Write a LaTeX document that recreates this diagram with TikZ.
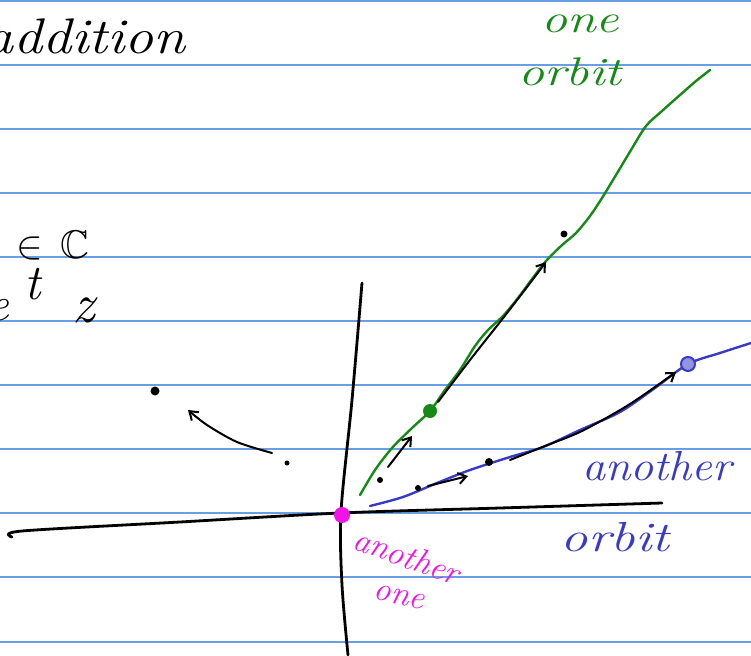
\documentclass[tikz,border=0pt]{standalone}
\usepackage{amsmath,amssymb}
\usepackage{tikz}
\usetikzlibrary{arrows.meta}

\definecolor{ruleblue}{HTML}{6A9EE2}
\definecolor{orbitgreen}{HTML}{168A16}
\definecolor{orbitblue}{HTML}{3A3AC8}
\definecolor{pinkpen}{HTML}{F014E6}

\begin{document}
\begin{tikzpicture}[
    x=1pt, y=-1pt,
    ruleline/.style={ruleblue, line width=1.8pt},
    axis/.style={line width=2.8pt, line cap=round, line join=round},
    orbit/.style={line width=2.4pt, line cap=round, line join=round},
    flow/.style={line width=2pt, line cap=round, line join=round, -{Straight Barb[length=8pt, width=11pt, line width=2pt]}},
    blob/.style={circle, fill, inner sep=0pt, minimum size=#1},
    hand/.style={inner sep=0pt, font=\itshape\fontsize{#1}{#1}\selectfont}
]

% Page
\fill[white] (0,0) rectangle (751,655);
\useasboundingbox (0,0) rectangle (751,655);

% Ruled lines
\foreach \y in {1,65,129,193,257,321,385,449,513,577,642}
  \draw[ruleline] (0,\y) -- (751,\y);

% Header and formula scraps
\node[hand=50, anchor=base east, xscale=1.16] (title) at (186,54) {addition};
\node[anchor=base west, inner sep=0pt] (member) at (16,258) {\scalebox{4}{$\in\,\mathbb{C}$}};
\node[hand=48, anchor=base east] (e) at (9,320) {e};
\node[hand=50, anchor=base] (t) at (33,299) {t};
\node[hand=56, anchor=base] (z) at (84,322) {z};

% Axes
\draw[axis] plot[smooth] coordinates {(12,537) (22,531) (180,522) (340,513) (500,508) (662,503)};
\draw[axis] plot[smooth] coordinates {(362,283) (352,400) (341,512) (342,585) (348,655)};

% Orbits
\draw[orbit, orbitgreen] plot[smooth] coordinates {(360,495) (375,470) (392,448) (412,428) (430,411)
  (445,390) (460,370) (475,346) (488,330) (503,316) (518,298) (532,279) (546,261) (561,246)
  (576,233) (590,216) (602,198) (616,175) (631,150) (646,126) (662,111) (680,95) (696,81) (710,70)};
\draw[orbit, orbitblue] plot[smooth] coordinates {(370,506) (403,497) (437,483) (470,470) (510,457)
  (543,447) (580,430) (620,412) (655,388) (688,364) (720,353) (751,343)};

% Points
\node[blob=14pt, orbitgreen] (g) at (430,411) {};
\node[circle, draw=orbitblue, fill=orbitblue!55, line width=2pt, minimum size=14pt, inner sep=0pt] (b) at (688,364) {};
\node[blob=16pt, pinkpen] (o) at (342,515) {};

% Black moves along the orbits
\node[blob=6pt] (g0) at (380,480) {};
\coordinate (g1) at (388,467);
\coordinate (g2) at (412,436);
\draw[flow] (g1) -- (g2);
\draw[flow] plot[smooth] coordinates {(438,402) (470,360) (500,322) (524,291) (546,262)};
\node[blob=7pt] (g3) at (564,234) {};

\node[blob=6pt] (b0) at (418,488) {};
\coordinate (b1) at (428,486);
\coordinate (b2) at (468,476);
\draw[flow] (b1) -- (b2);
\node[blob=8pt] (b3) at (489,462) {};
\draw[flow] plot[smooth] coordinates {(510,460) (545,446) (582,431) (630,404) (676,372)};

% Outside point
\node[blob=9pt] (p) at (155,391) {};
\node[blob=5pt] (q) at (287,463) {};
\draw[flow] plot[smooth] coordinates {(272,453) (237,442) (207,425) (188,410)};

% Labels
\node[hand=40, orbitgreen, xscale=1.3] (oneg) at (580,24) {one};
\node[hand=40, orbitgreen, xscale=1.3] (orbitg) at (570,72) {orbit};
\node[hand=42, orbitblue, xscale=1.1] (anotherb) at (657,466) {another};
\node[hand=42, orbitblue, xscale=1.3] (orbitb) at (615,537) {orbit};
\node[hand=34, pinkpen, rotate=-20] (anotherp) at (407,556) {another};
\node[hand=34, pinkpen, rotate=-12] (onep) at (399,597) {one};

\end{tikzpicture}
\end{document}
